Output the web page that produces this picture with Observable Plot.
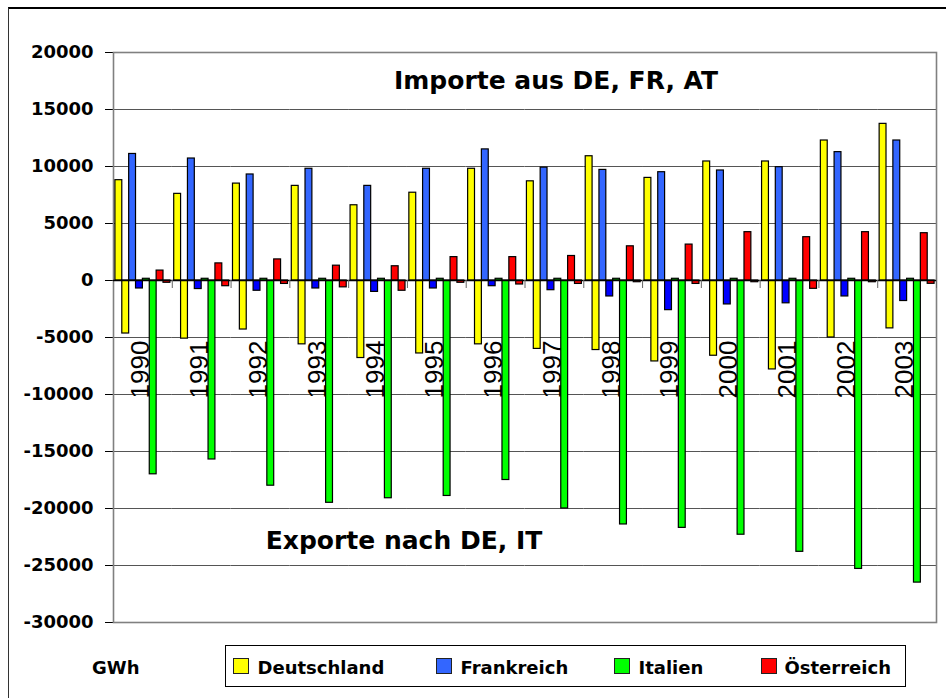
<!DOCTYPE html>
<html><head><meta charset="utf-8">
<script src="https://cdn.jsdelivr.net/npm/d3@7"></script>
<script src="https://cdn.jsdelivr.net/npm/@observablehq/plot@0.6"></script>
<style>
html,body{margin:0;padding:0;background:#fff;overflow:hidden;}
#wrap{position:relative;width:946px;height:698px;overflow:hidden;font-family:"DejaVu Sans";font-weight:bold;color:#000;}
#outer{position:absolute;left:8px;top:7px;width:1000px;height:800px;border-top:2px solid #000;border-left:1.5px solid #333;}
#chart{position:absolute;left:0;top:0;}
.box{position:absolute;left:225px;top:645px;width:681px;height:42px;box-sizing:border-box;border:1.5px solid #000;background:#fff;}
.sw{position:absolute;top:658px;width:16px;height:16px;box-sizing:border-box;border:1.3px solid #222;}
.lt{position:absolute;top:658.8px;font-size:18px;line-height:18px;white-space:nowrap;}
</style></head>
<body>
<div id="wrap">
  <div id="outer"></div>
  <div id="chart"></div>
  <div class="lt" style="left:92px">GWh</div>
  <div class="box"></div>
  <div id="legend"></div>
</div>
<script>
const years = ["1990","1991","1992","1993","1994","1995","1996","1997","1998","1999","2000","2001","2002","2003"];
const deImport = [8800, 7600, 8500, 8300, 6600, 7700, 9800, 8700, 10900, 9000, 10440, 10440, 12280, 13740];
const deExport = [-4650, -5100, -4300, -5600, -6800, -6400, -5600, -6000, -6100, -7100, -6600, -7800, -5000, -4200];
const frImport = [11100, 10700, 9300, 9800, 8300, 9800, 11500, 9900, 9700, 9500, 9650, 9940, 11260, 12280];
const frExport = [-700, -750, -900, -700, -1000, -700, -500, -850, -1400, -2600, -2100, -2000, -1400, -1800];
const itImport = [150, 150, 150, 150, 150, 150, 150, 150, 150, 150, 150, 150, 150, 150];
const itExport = [-17000, -15700, -18000, -19500, -19100, -18900, -17500, -20000, -21400, -21700, -22300, -23800, -25300, -26500];
const atImport = [870, 1500, 1850, 1300, 1250, 2050, 2050, 2150, 3000, 3150, 4240, 3800, 4240, 4150];
const atExport = [-200, -500, -300, -600, -900, -200, -350, -300, -150, -300, -150, -730, -150, -290];
const yTicks = [-30000, -25000, -20000, -15000, -10000, -5000, 0, 5000, 10000, 15000, 20000];

const countries = ["Deutschland", "Frankreich", "Italien", "Österreich"];
const legendColors = ["#FFFF00", "#3366FF", "#00FF00", "#FF0000"];

const series = [
  {key: "DE+", values: deImport, color: "#FFFF00"},
  {key: "DE-", values: deExport, color: "#FFFF00"},
  {key: "FR+", values: frImport, color: "#3366FF"},
  {key: "FR-", values: frExport, color: "#0000FF"},
  {key: "IT+", values: itImport, color: "#00FF00"},
  {key: "IT-", values: itExport, color: "#00FF00"},
  {key: "AT+", values: atImport, color: "#FF0000"},
  {key: "AT-", values: atExport, color: "#FF0000"}
];
const keys = series.map(s => s.key);
const rows = [];
years.forEach((yr, i) => series.forEach(s => rows.push({year: yr, key: s.key, value: s.values[i], color: s.color})));

const W = 946, mL = 113, mR = 10;
const padOuter = 0.28;
const step = (W - mL - mR) / years.length;
const bw = step / (keys.length + 2 * padOuter);
const edgeOffset = bw / 2 + padOuter * bw;

const chart = Plot.plot({
  width: W,
  height: 632,
  marginLeft: mL,
  marginRight: mR,
  marginTop: 52,
  marginBottom: 10,
  style: {fontFamily: "DejaVu Sans", fontSize: "18px", fontWeight: "bold", color: "#000", background: "transparent", overflow: "visible"},
  fx: {domain: years, padding: 0, round: false, axis: null, label: null},
  x: {domain: keys, paddingInner: 0, paddingOuter: padOuter, round: false, axis: null, label: null},
  y: {domain: [-30000, 20000], ticks: yTicks, tickSize: 8, tickPadding: 12, tickFormat: d => String(d), label: null, line: true},
  marks: [
    Plot.ruleY(yTicks.filter(t => t !== 0 && t !== 20000 && t !== -30000), {stroke: "#555", strokeWidth: 1}),
    Plot.frame({stroke: "#808080", strokeWidth: 1.6, facet: "super"}),
    Plot.text(years, {fx: d => d, y: 0, text: d => d, rotate: -90, textAnchor: "start", lineAnchor: "middle", dy: 118, dx: -2, fontFamily: "Liberation Sans", fontWeight: "normal", fontSize: 26, fill: "#000"}),
    Plot.rectY(rows, {fx: "year", x: "key", y: "value", fill: "color", stroke: "#000", strokeWidth: 1.2}),
    Plot.ruleY([0], {stroke: "#000", strokeWidth: 1.4}),
    Plot.ruleX(years, {fx: d => d, x: () => keys[keys.length - 1], y1: 0, y2: 0, insetBottom: -8, dx: edgeOffset, stroke: "#666", strokeWidth: 1}),
    Plot.text(["Importe aus DE, FR, AT"], {frameAnchor: "top", text: d => d, lineAnchor: "top", dx: 31, dy: 18.5, fontSize: 25, fontWeight: "bold", fill: "#000", facet: "super"}),
    Plot.text(["Exporte nach DE, IT"], {frameAnchor: "top", text: d => d, lineAnchor: "top", dx: -121, dy: 478.5, fontSize: 25, fontWeight: "bold", fill: "#000", facet: "super"})
  ]
});
document.getElementById("chart").appendChild(chart);

const swLeft = [233, 436, 614, 761];
const txLeft = [257.5, 460.5, 638.5, 784.5];
const leg = document.getElementById("legend");
countries.forEach((c, i) => {
  const sw = document.createElement("div");
  sw.className = "sw";
  sw.style.left = swLeft[i] + "px";
  sw.style.background = legendColors[i];
  leg.appendChild(sw);
  const t = document.createElement("div");
  t.className = "lt";
  t.style.left = txLeft[i] + "px";
  t.textContent = c;
  leg.appendChild(t);
});
</script>
</body></html>
